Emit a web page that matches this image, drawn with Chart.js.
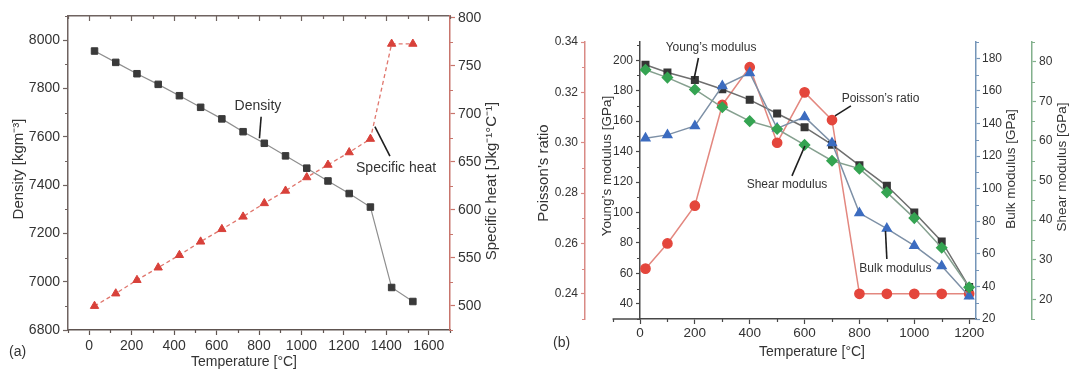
<!DOCTYPE html>
<html>
<head>
<meta charset="utf-8">
<script src="https://cdn.jsdelivr.net/npm/chart.js@4.4.0/dist/chart.umd.min.js"></script>
<style>
  html, body { margin: 0; padding: 0; background: #fff; }
  #wrap { position: relative; width: 1069px; height: 371px; }
  .panel { position: absolute; top: 0; height: 371px; }
  #pa { left: 0; width: 530px; }
  #pb { left: 530px; width: 539px; }
</style>
</head>
<body>
<div id="wrap">
  <div class="panel" id="pa"><canvas id="chartA"></canvas></div>
  <div class="panel" id="pb"><canvas id="chartB"></canvas></div>
</div>
<script>
// ---- panel (a): density and specific heat vs temperature
var tempA = [25, 125, 225, 325, 425, 525, 625, 725, 825, 925, 1025, 1125, 1225, 1325, 1425, 1525];
var density = [7955, 7908, 7861, 7817, 7770, 7722, 7674, 7621, 7573, 7521, 7470, 7417, 7365, 7309, 6976, 6918];
var specificHeat = [500, 513, 527, 540, 553, 567, 580, 593, 607, 620, 634, 647, 660, 674, 773, 773];
var tempTicksA = [0, 200, 400, 600, 800, 1000, 1200, 1400, 1600];
var densityTicks = [6800, 7000, 7200, 7400, 7600, 7800, 8000];
var heatTicks = [500, 550, 600, 650, 700, 750, 800];

// ---- panel (b): elastic properties vs temperature
var tempB = [20, 100, 200, 300, 400, 500, 600, 700, 800, 900, 1000, 1100, 1200];
var youngs = [197, 192, 187, 181, 174, 165, 156, 144.5, 131, 117.5, 100, 81, 51];
var shear = [78, 76, 73, 68.5, 65, 63, 59, 55, 53, 47, 40.5, 33, 23];
var bulk = [131, 133, 138.5, 163, 171, 137, 144, 128, 85, 75.5, 65, 52.5, 34];
var poisson = [0.25, 0.26, 0.275, 0.315, 0.33, 0.30, 0.32, 0.309, 0.24, 0.24, 0.24, 0.24, 0.24];
var tempTicksB = [0, 200, 400, 600, 800, 1000, 1200];
var youngTicks = [40, 60, 80, 100, 120, 140, 160, 180, 200];
var bulkTicks = [20, 40, 60, 80, 100, 120, 140, 160, 180];
var shearTicks = [20, 30, 40, 50, 60, 70, 80];
var poissonTicks = [0.24, 0.26, 0.28, 0.30, 0.32, 0.34];

var FONT = '"Liberation Sans", Arial, Helvetica, sans-serif';
Chart.defaults.font.family = FONT;
Chart.defaults.color = '#333';

function pts(xs, ys) {
  return xs.map(function (x, i) { return { x: x, y: ys[i] }; });
}
function fixed(list) {
  return function (s) { s.ticks = list.map(function (v) { return { value: v }; }); };
}

// short unlabelled ticks between the labelled ones
function minorTicks(spec) {
  return {
    id: 'minorTicks',
    afterDraw: function (chart) {
      var ctx = chart.ctx;
      Object.keys(spec).forEach(function (id) {
        var s = chart.scales[id], m = spec[id];
        var majors = s.ticks.map(function (t) { return t.value; });
        var from = m.from !== undefined ? m.from : s.min;
        var k0 = Math.ceil(from / m.step - 1e-6);
        var k1 = Math.floor(s.max / m.step + 1e-6);
        ctx.save();
        ctx.strokeStyle = m.color;
        ctx.lineWidth = 1.2;
        ctx.beginPath();
        for (var k = k0; k <= k1; k++) {
          var v = k * m.step;
          if (majors.some(function (mv) { return Math.abs(mv - v) < m.step / 100; })) continue;
          var p = Math.round(s.getPixelForValue(v)) + 0.5;
          if (s.position === 'left') { ctx.moveTo(s.right, p); ctx.lineTo(s.right - m.len, p); }
          else if (s.position === 'right') { ctx.moveTo(s.left, p); ctx.lineTo(s.left + m.len, p); }
          else if (s.position === 'bottom') { ctx.moveTo(p, s.top); ctx.lineTo(p, s.top + m.len); }
          else { ctx.moveTo(p, s.bottom); ctx.lineTo(p, s.bottom - m.len); }
        }
        ctx.stroke();
        ctx.restore();
      });
    }
  };
}

// titles, panel letters and the callouts with their pointer lines
function notes(texts, callouts, extra) {
  return {
    id: 'notes',
    afterDraw: function (chart) {
      var ctx = chart.ctx;
      if (extra) extra(chart, ctx);
      texts.forEach(function (t) {
        ctx.save();
        ctx.font = t.size + 'px ' + FONT;
        ctx.fillStyle = '#333';
        ctx.textAlign = t.align || 'center';
        ctx.textBaseline = 'middle';
        ctx.translate(t.x, t.y);
        if (t.rot) ctx.rotate(-Math.PI / 2);
        ctx.fillText(t.text, 0, 0);
        ctx.restore();
      });
      var sx = chart.scales.x, sy = chart.scales.y;
      callouts.forEach(function (c) {
        ctx.save();
        ctx.font = c.size + 'px ' + FONT;
        ctx.fillStyle = '#333';
        ctx.textAlign = 'center';
        ctx.textBaseline = 'middle';
        ctx.fillText(c.text, sx.getPixelForValue(c.at[0]), sy.getPixelForValue(c.at[1]));
        ctx.strokeStyle = '#1e1e1e';
        ctx.lineWidth = 1.6;
        ctx.beginPath();
        ctx.moveTo(sx.getPixelForValue(c.from[0]), sy.getPixelForValue(c.from[1]));
        ctx.lineTo(sx.getPixelForValue(c.to[0]), sy.getPixelForValue(c.to[1]));
        ctx.stroke();
        ctx.restore();
      });
    }
  };
}

function axis(opts) {
  var a = {
    type: 'linear',
    position: opts.position,
    min: opts.min,
    max: opts.max,
    afterBuildTicks: fixed(opts.ticks),
    afterFit: function (s) { if (s.isHorizontal()) s.height = opts.size; else s.width = opts.size; },
    ticks: {
      display: opts.labels !== false,
      autoSkip: false,
      maxRotation: 0,
      padding: opts.pad,
      color: '#333',
      font: { size: opts.font || 14 },
      callback: opts.format || function (v) { return v; }
    },
    grid: { drawOnChartArea: false, tickLength: opts.tick, tickColor: opts.color, tickWidth: 1.2 },
    border: { color: opts.color, width: 1.5 },
    title: { display: false }
  };
  if (opts.weight !== undefined) a.weight = opts.weight;
  return a;
}

var base = {
  responsive: true,
  maintainAspectRatio: false,
  animation: false,
  events: [],
  layout: { autoPadding: false },
  plugins: { legend: { display: false }, tooltip: { enabled: false } },
  elements: { line: { tension: 0 } }
};

// ---------- chart (a)
var AX_A = '#6f6360', RED_A = '#c8756c';
new Chart(document.getElementById('chartA'), {
  type: 'line',
  data: {
    datasets: [{
      data: pts(tempA, density),
      yAxisID: 'y',
      borderColor: '#8e8e8e',
      borderWidth: 1.2,
      pointStyle: 'rect',
      pointRadius: 4.6,
      pointBackgroundColor: '#3a3a3a',
      pointBorderColor: '#3a3a3a',
      pointBorderWidth: 1
    }, {
      data: pts(tempA, specificHeat),
      yAxisID: 'y2',
      borderColor: '#e0766d',
      borderWidth: 1.3,
      borderDash: [4, 3],
      pointStyle: 'triangle',
      pointRadius: 4.8,
      pointBackgroundColor: '#d8413a',
      pointBorderColor: '#d8413a',
      pointBorderWidth: 1
    }]
  },
  options: Object.assign({}, base, {
    layout: { autoPadding: false, padding: 0 },
    scales: {
      x: axis({ position: 'bottom', min: -100, max: 1700, ticks: tempTicksA, size: 41, pad: 3, tick: 5, color: '#5e5450' }),
      x2: axis({ position: 'top', min: -100, max: 1700, ticks: tempTicksA, size: 16, pad: 0, tick: -5, color: AX_A, labels: false }),
      y: axis({ position: 'left', min: 6800, max: 8100, ticks: densityTicks, size: 68, pad: 3, tick: 5, color: AX_A }),
      y2: axis({ position: 'right', min: 475, max: 802, ticks: heatTicks, size: 80, pad: 3, tick: 5, color: RED_A })
    }
  }),
  plugins: [
    minorTicks({
      x: { step: 100, len: 3, color: '#5e5450' },
      x2: { step: 100, len: -3, color: AX_A },
      y: { step: 100, len: 3, color: AX_A },
      y2: { step: 25, len: 3, color: RED_A }
    }),
    notes([
      { text: 'Density [kgm\u207B\u00B3]', x: 19, y: 169, rot: true, size: 15 },
      { text: 'Specific heat [Jkg\u207B\u00B9\u00B0C\u207B\u00B9]', x: 492, y: 181, rot: true, size: 15 },
      { text: 'Temperature [\u00B0C]', x: 244, y: 362, size: 14 },
      { text: '(a)', x: 9, y: 352, align: 'left', size: 14 }
    ], [
      { text: 'Density', size: 14, at: [795, 7727], from: [810, 7683], to: [802, 7594] },
      { text: 'Specific heat', size: 14, at: [1446, 7471], from: [1417, 7520], to: [1346, 7642] }
    ])
  ]
});

// ---------- chart (b)
var POI = '#d98a85', YNG = '#474747', BLK = '#7595b8', SHR = '#82b08c';
new Chart(document.getElementById('chartB'), {
  type: 'line',
  data: {
    datasets: [{
      data: pts(tempB, shear),
      yAxisID: 'yS',
      borderColor: '#85a08f',
      borderWidth: 1.5,
      pointStyle: 'rectRot',
      pointRadius: 5,
      pointBackgroundColor: '#35a452',
      pointBorderColor: '#35a452'
    }, {
      data: pts(tempB, bulk),
      yAxisID: 'yB',
      borderColor: '#7d90a6',
      borderWidth: 1.5,
      pointStyle: 'triangle',
      pointRadius: 5,
      pointBackgroundColor: '#3c6cc0',
      pointBorderColor: '#3c6cc0'
    }, {
      data: pts(tempB, youngs),
      yAxisID: 'y',
      borderColor: '#6e6e6e',
      borderWidth: 1.5,
      pointStyle: 'rect',
      pointRadius: 4.6,
      pointBackgroundColor: '#363636',
      pointBorderColor: '#363636'
    }, {
      data: pts(tempB, poisson),
      yAxisID: 'yP',
      borderColor: '#e3877f',
      borderWidth: 1.5,
      pointStyle: 'circle',
      pointRadius: 4.6,
      pointBackgroundColor: '#e4463c',
      pointBorderColor: '#e4463c'
    }]
  },
  options: Object.assign({}, base, {
    layout: { autoPadding: false, padding: { top: 42, left: 0, right: 0, bottom: 0 } },
    scales: {
      x: axis({ position: 'bottom', min: 0, max: 1225, ticks: tempTicksB, size: 52, pad: 1, tick: 5, color: YNG, font: 13.5 }),
      yP: axis({ position: 'left', weight: 2, min: 0.23, max: 0.34, ticks: poissonTicks, size: 55, pad: 3, tick: 4, color: POI, font: 12,
        format: function (v) { return v.toFixed(2); } }),
      y: axis({ position: 'left', weight: 1, min: 30, max: 212, ticks: youngTicks, size: 55, pad: 3, tick: 4, color: YNG, font: 12 }),
      yB: axis({ position: 'right', weight: 1, min: 20, max: 190, ticks: bulkTicks, size: 56, pad: 2, tick: 4, color: BLK, font: 12 }),
      yS: axis({ position: 'right', weight: 2, min: 15, max: 85, ticks: shearTicks, size: 37, pad: 3, tick: 4, color: SHR, font: 12 })
    }
  }),
  plugins: [
    minorTicks({
      x: { step: 100, from: -100, len: 3, color: YNG },
      yP: { step: 0.01, len: 3, color: POI },
      y: { step: 10, len: 3, color: YNG },
      yB: { step: 10, len: 3, color: BLK },
      yS: { step: 5, len: 3, color: SHR }
    }),
    notes([
      { text: 'Poisson\u2019s ratio', x: 14, y: 173, rot: true, size: 15 },
      { text: 'Young\u2019s modulus [GPa]', x: 77, y: 166, rot: true, size: 13.5 },
      { text: 'Bulk modulus [GPa]', x: 481, y: 169, rot: true, size: 13.5 },
      { text: 'Shear modulus [GPa]', x: 532, y: 167, rot: true, size: 13.5 },
      { text: 'Temperature [\u00B0C]', x: 282, y: 352, size: 14 },
      { text: '(b)', x: 23, y: 343, align: 'left', size: 14 }
    ], [
      { text: 'Young\u2019s modulus', size: 12, at: [259, 208.3], from: [213, 201.5], to: [197, 187.7] },
      { text: 'Poisson\u2019s ratio', size: 12, at: [877, 174.5], from: [769, 170], to: [711, 163.5] },
      { text: 'Shear modulus', size: 12, at: [536, 118], from: [554, 124], to: [601, 143.7] },
      { text: 'Bulk modulus', size: 12, at: [931, 63.3], from: [900, 69.4], to: [895, 87.8] }
    ], function (chart, ctx) {
      // x axis line continues a little to the left of the Young's modulus axis
      var sx = chart.scales.x;
      ctx.save();
      ctx.strokeStyle = YNG;
      ctx.lineWidth = 1.5;
      ctx.beginPath();
      ctx.moveTo(sx.getPixelForValue(-100), sx.top);
      ctx.lineTo(chart.chartArea.left, sx.top);
      ctx.stroke();
      ctx.restore();
    })
  ]
});
</script>
</body>
</html>
